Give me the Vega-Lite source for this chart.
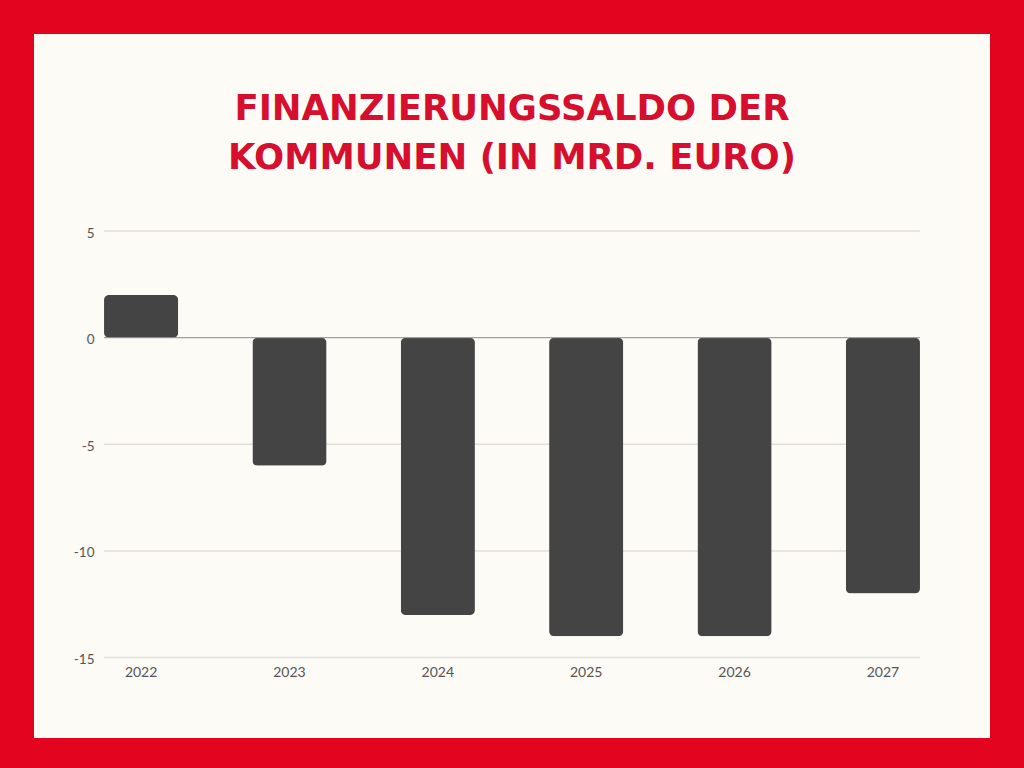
{
  "$schema": "https://vega.github.io/schema/vega-lite/v6.json",
  "width": 956,
  "height": 704,
  "padding": 34,
  "autosize": "none",
  "background": "#E3051F",
  "config": {
    "view": {"fill": "#FDFBF6", "stroke": null},
    "font": "Lato"
  },
  "title": {
    "text": ["FINANZIERUNGSSALDO DER", "KOMMUNEN (IN MRD. EURO)"],
    "font": "DejaVu Sans",
    "fontSize": 35.5,
    "fontWeight": "bold",
    "color": "#D50F2D",
    "lineHeight": 49,
    "anchor": "middle",
    "offset": -142
  },
  "datasets": {
    "saldo": [
      {"Jahr": "2022", "Saldo": 2},
      {"Jahr": "2023", "Saldo": -6},
      {"Jahr": "2024", "Saldo": -13},
      {"Jahr": "2025", "Saldo": -14},
      {"Jahr": "2026", "Saldo": -14},
      {"Jahr": "2027", "Saldo": -12}
    ],
    "grid": [
      {"v": 5}, {"v": -5}, {"v": -10}, {"v": -15}
    ],
    "zero": [{"v": 0}]
  },
  "layer": [
    {
      "data": {"name": "grid"},
      "mark": {"type": "rule", "color": "#E2DED8", "strokeWidth": 1.5},
      "encoding": {
        "x": {"datum": "2022", "type": "nominal", "bandPosition": 0, "scale": {"domain": ["2022", "2023", "2024", "2025", "2026", "2027"]}},
        "x2": {"datum": "2027", "bandPosition": 1},
        "y": {"field": "v", "type": "quantitative"}
      }
    },
    {
      "data": {"name": "saldo"},
      "mark": {"type": "bar", "color": "#444444", "cornerRadius": 5},
      "encoding": {
        "x": {
          "field": "Jahr",
          "type": "nominal",
          "sort": null,
          "scale": {"paddingInner": 0.5, "paddingOuter": 0.472},
          "axis": {
            "title": null,
            "orient": "bottom",
            "offset": -81,
            "domain": false,
            "ticks": false,
            "bandPosition": 0.5,
            "labelAngle": 0,
            "labelAlign": "center",
            "labelFont": "Lato",
            "labelFontSize": 14,
            "labelColor": "#555555",
            "labelPadding": 15
          }
        },
        "y": {
          "field": "Saldo",
          "type": "quantitative",
          "scale": {"domain": [-18.77, 14.24], "nice": false, "zero": false},
          "axis": {
            "title": null,
            "values": [-15, -10, -5, 0, 5],
            "labelExpr": "replace(datum.label, '\u2212', '-')",
            "grid": false,
            "domain": false,
            "ticks": false,
            "offset": -70,
            "labelFont": "Lato",
            "labelFontSize": 13.5,
            "labelColor": "#555555",
            "labelPadding": 10,
            "labelBaseline": "middle",
            "labelOffset": 2
          }
        }
      }
    },
    {
      "data": {"name": "zero"},
      "mark": {"type": "rule", "color": "#8A8A8A", "strokeWidth": 1},
      "encoding": {
        "x": {"datum": "2022", "type": "nominal", "bandPosition": 0},
        "x2": {"datum": "2027", "bandPosition": 1},
        "y": {"field": "v", "type": "quantitative"}
      }
    }
  ]
}
